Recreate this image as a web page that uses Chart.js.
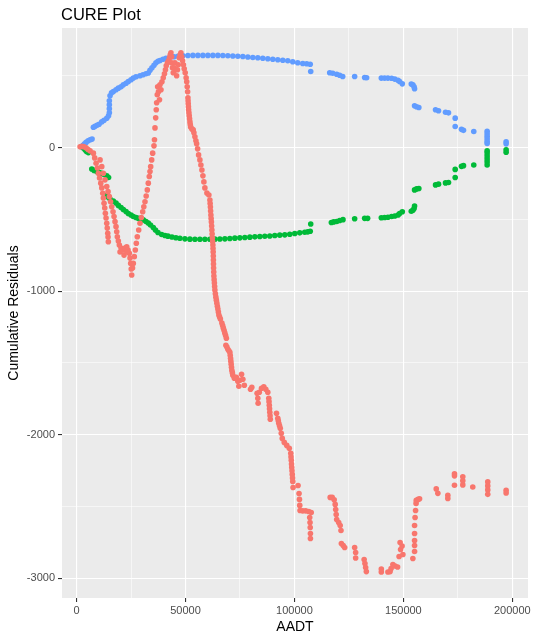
<!DOCTYPE html>
<html>
<head>
<meta charset="utf-8">
<script src="https://cdn.jsdelivr.net/npm/chart.js@4.4.0/dist/chart.umd.min.js"></script>
<style>
  body { margin: 0; background: #fff; }
  #wrap { width: 534px; height: 638px; }
</style>
</head>
<body>
<div id="wrap"><canvas id="cure" width="534" height="638"></canvas></div>
<script>
// CURE residuals (red)
const cureAADT = [
  1600, 2520, 3440, 4350, 5270, 6190,
  7700, 8300, 8940, 9530, 9990, 10540, 11090, 11550, 12010, 12280, 12600, 12920, 13200, 13520, 13840, 14070, 14300, 14440, 14570,
  10770, 11550, 12280, 13060, 13840, 14440, 15030, 15580, 16130, 16730, 17190, 17640, 18100, 18420, 18700, 19160, 19620, 20390, 21450, 22230, 23010, 23600, 24200, 24520, 24840, 25070, 25300, 19940, 21770, 23140,
  25670, 26030, 26490, 26950, 27410, 27860, 28510, 29100, 29700, 30340, 30850, 31390, 31940, 32450, 32910, 33360, 33690, 34010, 34460, 34920, 35520, 35750,
  35980, 36300, 36570, 36750, 37030, 37210, 37580, 38040, 38270, 38730, 39180, 39780, 40330, 40790, 41150, 41710, 42160, 42620, 42990, 43310, 43630, 43630, 44000, 44360, 44680, 45140, 45460, 45920, 46290, 46650, 47110, 47530, 47890, 48260, 48670, 49040, 49400, 49860, 50280, 50550, 50780, 50960, 51100, 51240, 51420, 51700, 52020, 52340, 52930, 53530, 53850, 54310, 54770, 55090, 55550, 56000,
  51170, 51330, 51560, 51860, 52180,
  56600, 57060, 57520, 57980, 58430, 58890, 59810, 60720, 61180, 61410, 61640, 61870, 62100, 62330, 62560, 62700, 62790, 62880,
  61300, 61520, 61750, 61990, 62210, 62450, 62630, 62750, 62840, 62950, 63130, 63360, 63700, 64160, 64620, 65080, 65650, 67030, 67710, 68400, 69000, 69900, 70510, 70810, 71100, 71490,
  63020, 63250, 63480, 63930, 64390, 64850, 65310, 66000, 66680, 67370, 68060, 68750, 68520, 69430, 70350, 70670, 70950, 71260, 71720, 72410, 73330, 74010, 74470, 74930, 75710, 76310, 76990, 79840, 80430,
  82860, 83180, 83320, 83870, 84880, 85930, 86850, 87770, 88220, 88450, 88680, 88910, 88330, 88560, 88800,
  91750, 92350, 92810, 93490, 93950, 94410, 95330, 96470, 97620, 98310, 98540, 98770, 99000, 99220, 99360, 101650,
  92580, 93150, 98420, 98650, 98880, 99110,
  102110, 102290, 102430, 102570, 103810, 105180, 106560, 107700, 107010, 107150, 107240, 107330, 107330,
  116410, 117330, 118240, 118700, 118930, 119160, 119390, 120310, 120990, 121360, 121540, 122370, 123050,
  127630, 128090, 128090, 131990, 132360, 132680, 133000,
  139870, 139870, 142900, 143900, 144360, 145180, 146190, 147340, 148030, 148720, 149410, 148490, 149780,
  154350, 155130, 155130, 155130, 155130, 155130, 155360, 155590, 155820, 155910, 156740, 157420,
  165080, 165820, 170400, 170400, 173460, 173460, 173460, 177270, 177270, 177270, 181850, 188730, 188730, 188730, 188730, 197160, 197160
];
const cureResid = [
  5, 8, 5, -2, -13, -23,
  -39, -72, -109, -142, -179, -212, -248, -281, -318, -351, -388, -421, -458, -491, -528, -561, -597, -623, -656,
  -86, -133, -179, -225, -272, -307, -342, -377, -412, -447, -481, -516, -551, -586, -621, -651, -679, -700, -714, -700, -691, -714, -737, -770, -807, -846, -888, -728, -749, -728,
  -839, -807, -760, -714, -667, -621, -574, -527, -487, -447, -412, -377, -337, -295, -248, -202, -167, -133, -86, -39, 12, 54,
  137, 207, 263, 312, 368, 424, 389, 333, 437, 403, 458, 486, 514, 542, 570, 591, 605, 626, 647, 661, 633, 591, 556, 521, 556, 591, 542, 500, 542, 577, 626, 647, 661, 633, 605, 577, 549, 521, 486, 458, 424, 389, 347, 305, 263, 221, 179, 144, 130, 123, 103, 75, 47, 26, -9, -51,
  326, 284, 242, 200, 161,
  -86, -121, -156, -197, -239, -281, -316, -330, -365, -414, -470, -518, -574, -630, -679, -728, -784, -839,
  -390, -442, -494, -546, -602, -655, -703, -756, -811, -867, -920, -968, -1018, -1063, -1105, -1146, -1181, -1240, -1275, -1310, -1390, -1416, -1447, -1488, -1530, -1568,
  -895, -944, -993, -1042, -1084, -1125, -1167, -1195, -1223, -1258, -1293, -1328, -1377, -1405, -1426, -1468, -1509, -1551, -1586, -1607, -1600, -1628, -1663, -1621, -1579, -1614, -1656, -1684, -1670,
  -1712, -1746, -1781, -1705, -1677, -1666, -1684, -1705, -1746, -1795, -1844, -1893, -1770, -1820, -1868,
  -1851, -1886, -1921, -1956, -1991, -2026, -2054, -2075, -2095, -2130, -2179, -2228, -2277, -2326, -2368, -2354,
  -1903, -1938, -2155, -2204, -2252, -2302,
  -2410, -2451, -2493, -2528, -2531, -2531, -2535, -2542, -2577, -2612, -2647, -2689, -2723,
  -2437, -2437, -2454, -2486, -2521, -2556, -2591, -2612, -2633, -2668, -2758, -2772, -2786,
  -2786, -2821, -2859, -2870, -2898, -2926, -2954,
  -2936, -2957, -2957, -2954, -2933, -2905, -2915, -2922, -2849, -2800, -2776, -2751, -2835,
  -2863, -2814, -2772, -2737, -2689, -2633, -2577, -2528, -2479, -2458, -2451, -2447,
  -2378, -2409, -2423, -2444, -2273, -2287, -2353, -2294, -2322, -2350, -2365, -2329, -2357, -2385, -2416, -2388, -2406
];

// upper limit (blue)
const upperAADT = [
  2380, 2980, 3670, 4350, 5270, 6190, 7100,
  7700, 8480, 9400, 10310, 11550, 12600, 13840, 14670, 15030, 15030, 15030, 15030, 15350, 16040, 16870, 18100, 19160, 20390, 21450, 22690, 23740, 24980, 26030, 27270, 29100, 30480, 31850, 32910, 33690, 34600, 35520, 36430, 37350, 38270, 39640, 41020, 42850, 44680, 46520, 48810, 51100, 53390, 55680, 57980, 60270, 62560, 64850, 67140, 69430, 71720, 74010, 76310, 78600, 80890, 83180, 85470, 87770, 90060, 92350, 94640, 96930, 99220, 101510, 103810, 105640, 107240,
  107470, 116180, 117560, 119390, 120760, 122140, 127630, 132220, 133130, 139870, 141380, 142900, 144590, 146050, 147550, 148260, 149500, 153620, 154350, 154910, 155130,
  155130, 156050, 157100, 164760, 166130, 169340, 170710, 173780, 173780, 176670, 177590, 182310, 188450, 188450, 188450, 188450, 188450, 188450, 197160, 197160
];
const upperResid = [
  7, 15, 26, 36, 47, 54, 59,
  142, 148, 155, 162, 179, 190, 204, 221, 242, 270, 298, 326, 361, 382, 391, 403, 414, 423, 437, 448, 460, 472, 484, 493, 500, 507, 514, 519, 539, 556, 574, 591, 601, 607, 615, 622, 631, 633, 636, 640, 641, 642, 642, 642, 642, 642, 642, 641, 640, 638, 636, 634, 631, 628, 626, 622, 619, 615, 612, 608, 605, 598, 591, 586, 584, 580,
  530, 521, 518, 511, 504, 495, 495, 488, 486, 484, 484, 484, 483, 477, 469, 460, 444, 442, 437, 424, 410,
  291, 284, 279, 263, 256, 246, 242, 205, 147, 127, 120, 112, 113, 96, 78, 61, 43, 29, 40, 26
];

// lower limit (green)
const lowerAADT = [
  2380, 2980, 3900, 4580, 5410,
  6970, 8020, 9260, 10310, 11550, 12600, 13840, 14670,
  14070, 14440,
  15350, 16870, 18100, 19160, 20390, 21450, 22690, 23740, 24980, 26030, 27270, 28320, 29560, 30610, 31850, 32910, 33920, 35200, 36210, 37350, 39050, 40560, 41930, 43770, 45600, 47430, 49720, 52020, 54310, 56600, 58890, 61180, 63470, 65770, 68060, 70350, 72640, 74930, 77220, 79520, 81810, 84100, 86390, 88680, 90970, 93260, 95560, 97850, 100140, 102430, 104720, 106100, 107240,
  107470, 116950, 118010, 119390, 120760, 122280, 127630, 132220, 133590, 139870, 141380, 142900, 144590, 146050, 147550, 148260, 149500, 153620, 154350, 154910, 155130,
  155130, 156050, 157100, 164760, 166130, 169340, 170710, 173780, 173780, 176670, 177590, 182310, 188450, 188450, 188450, 188450, 188450, 188450, 197160, 197160
];
const lowerResid = [
  7, -2, -16, -27, -35,
  -149, -159, -167, -173, -179, -188, -197, -208,
  -330, -344,
  -358, -372, -386, -403, -417, -431, -445, -459, -470, -480, -487, -493, -500, -504, -515, -525, -539, -557, -574, -592, -606, -613, -617, -623, -628, -632, -636, -638, -639, -639, -639, -639, -638, -637, -636, -634, -631, -629, -627, -624, -622, -620, -618, -616, -613, -610, -608, -604, -599, -594, -590, -587, -583,
  -532, -522, -518, -515, -508, -502, -496, -493, -493, -489, -487, -485, -480, -477, -470, -459, -447, -444, -437, -424, -407,
  -295, -288, -285, -260, -255, -246, -243, -209, -152, -131, -126, -121, -121, -100, -79, -58, -37, -23, -33, -16
];

// grid positions (every break) and the labelled ones
const xBreaks = [0, 25000, 50000, 75000, 100000, 125000, 150000, 175000, 200000];
const xTicksMajor = [0, 50000, 100000, 150000, 200000];
const yBreaks = [-3000, -2500, -2000, -1500, -1000, -500, 0, 500];
const yTicksMajor = [0, -1000, -2000, -3000];

const FONT = '"Liberation Sans", Arial, sans-serif';

function toPoints(xs, ys) {
  return xs.map((x, i) => ({ x: x, y: ys[i] }));
}

function isMajor(list, v) {
  return list.indexOf(v) !== -1;
}

const panelBackground = {
  id: 'panelBackground',
  beforeDraw(chart) {
    const { ctx, chartArea: a } = chart;
    ctx.save();
    ctx.fillStyle = '#EBEBEB';
    ctx.fillRect(a.left, a.top, a.right - a.left, a.bottom - a.top);
    ctx.restore();
  }
};

const plotTitle = {
  id: 'plotTitle',
  afterDraw(chart) {
    const ctx = chart.ctx;
    ctx.save();
    ctx.fillStyle = '#000000';
    ctx.font = '16.5px ' + FONT;
    ctx.textBaseline = 'alphabetic';
    ctx.textAlign = 'left';
    ctx.fillText('CURE Plot', 61, 20);
    ctx.restore();
  }
};

var ctx = document.getElementById('cure').getContext('2d');
var theChart = new Chart(ctx, {
  type: 'scatter',
  data: {
    datasets: [
      { label: 'CURE', data: toPoints(cureAADT, cureResid), backgroundColor: '#F8766D' },
      { label: 'Upper', data: toPoints(upperAADT, upperResid), backgroundColor: '#619CFF' },
      { label: 'Lower', data: toPoints(lowerAADT, lowerResid), backgroundColor: '#00BA38' }
    ]
  },
  options: {
    responsive: false,
    animation: false,
    events: [],
    elements: { point: { radius: 2.8, borderWidth: 0, hoverRadius: 2.8 } },
    layout: { padding: { top: 28, right: 6, left: 0, bottom: 0 } },
    plugins: { legend: { display: false }, tooltip: { enabled: false }, title: { display: false } },
    scales: {
      x: {
        type: 'linear',
        min: -6700,
        max: 207200,
        afterBuildTicks: function (s) { s.ticks = xBreaks.map(function (v) { return { value: v }; }); },
        afterFit: function (s) { s.height = 40; },
        border: { display: false },
        grid: {
          color: '#FFFFFF',
          lineWidth: function (c) { return isMajor(xTicksMajor, c.tick.value) ? 1.1 : 0.55; },
          tickLength: 4,
          tickWidth: 1.1,
          tickColor: function (c) { return isMajor(xTicksMajor, c.tick.value) ? '#333333' : 'rgba(0,0,0,0)'; }
        },
        ticks: {
          autoSkip: false,
          maxRotation: 0,
          padding: 2,
          color: '#4D4D4D',
          font: { family: FONT, size: 11 },
          callback: function (value) { return isMajor(xTicksMajor, value) ? value.toString() : ''; }
        },
        title: { display: true, text: 'AADT', color: '#000000', font: { family: FONT, size: 14 }, padding: { top: 0, bottom: 2 } }
      },
      y: {
        type: 'linear',
        min: -3138,
        max: 833,
        afterBuildTicks: function (s) { s.ticks = yBreaks.map(function (v) { return { value: v }; }); },
        afterFit: function (s) { s.width = 62; },
        border: { display: false },
        grid: {
          color: '#FFFFFF',
          lineWidth: function (c) { return isMajor(yTicksMajor, c.tick.value) ? 1.1 : 0.55; },
          tickLength: 4,
          tickWidth: 1.1,
          tickColor: function (c) { return isMajor(yTicksMajor, c.tick.value) ? '#333333' : 'rgba(0,0,0,0)'; }
        },
        ticks: {
          autoSkip: false,
          padding: 3,
          color: '#4D4D4D',
          font: { family: FONT, size: 11 },
          callback: function (value) { return isMajor(yTicksMajor, value) ? value.toString() : ''; }
        },
        title: { display: true, text: 'Cumulative Residuals', color: '#000000', font: { family: FONT, size: 14 }, padding: { top: 6, bottom: 0 } }
      }
    }
  },
  plugins: [panelBackground, plotTitle]
});
</script>
</body>
</html>
